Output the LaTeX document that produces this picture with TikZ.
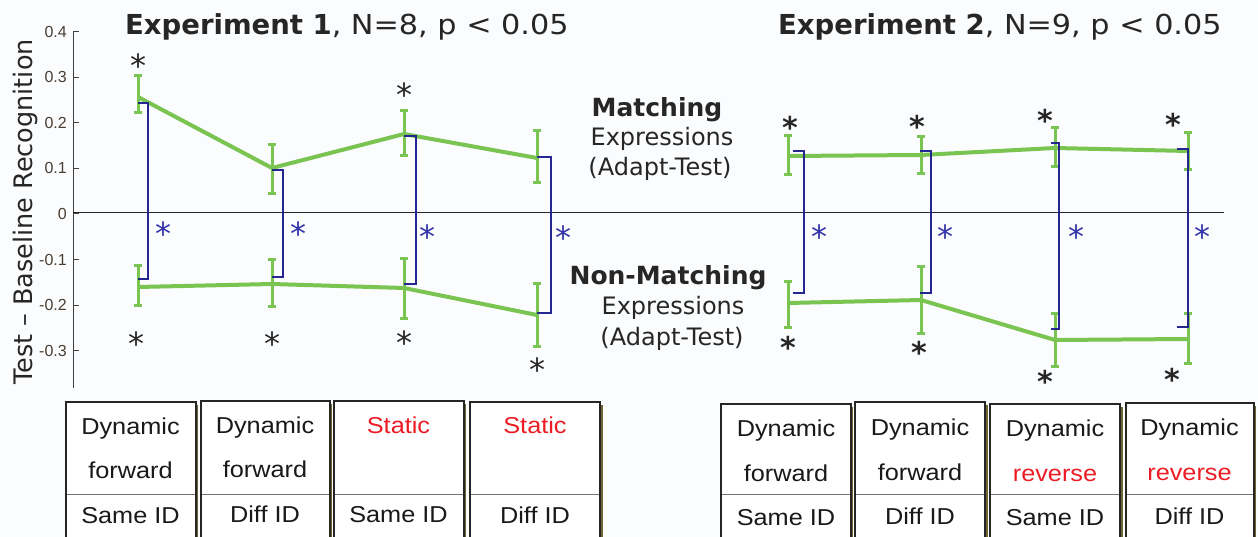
\documentclass[tikz,border=0pt]{standalone}
\usepackage{fontspec}
\setmainfont{DejaVu Sans}
\newfontfamily\arial{Liberation Sans}
\newfontfamily\tfont[FakeStretch=1.1]{Liberation Sans}
\newfontfamily\widefont[FakeStretch=1.1]{DejaVu Sans}
\definecolor{lgreen}{RGB}{122,196,82}
\definecolor{dblue}{RGB}{38,38,145}
\definecolor{sblue}{RGB}{52,52,170}
\definecolor{tred}{RGB}{236,28,36}
\definecolor{ticklab}{RGB}{75,62,50}
\definecolor{boxshadow}{RGB}{112,102,52}
\definecolor{bg}{RGB}{251,252,253}
\newcommand\fs[1]{\fontsize{#1}{#1}\selectfont}
\newcommand\ebar[5]{%
  \coordinate (#1) at (#2,#3);
  \coordinate (#1t) at (#2,#4);
  \coordinate (#1b) at (#2,#5);
  \draw[ebarst] (#1t) -- (#1b);
  \draw[ebarst] ([xshift=-4pt]#1t) -- ([xshift=4pt]#1t);
  \draw[ebarst] ([xshift=-4pt]#1b) -- ([xshift=4pt]#1b);}
\newcommand\bracketsig[5]{%
  \coordinate (#1a) at (#2,#4);
  \coordinate (#1b) at (#3,#4);
  \coordinate (#1c) at (#3,#5);
  \coordinate (#1d) at (#2,#5);
  \draw[brk] (#1a) -- (#1b) -- (#1c) -- (#1d);}
\newcommand\tbox[4]{% name, x1, x2, y1
  \coordinate (#1nw) at (#2,#4);
  \coordinate (#1se) at (#3,545);
  \fill[boxshadow] ([shift={(1pt,-3pt)}]#1nw -| #1se) rectangle ([xshift=2.8pt]#1se);
  \fill[white] (#1nw) rectangle (#1se);
  \draw[tline] (#1nw |- 0,494) -- (#1se |- 0,494);
  \draw[tborder] (#1nw) rectangle (#1se);}
\begin{document}
\begin{tikzpicture}[x=1pt,y=-1pt,
  gline/.style={draw=lgreen, line width=4pt, line join=round},
  ebarst/.style={draw=lgreen, line width=3pt},
  brk/.style={draw=dblue, line width=2pt},
  bast/.style={text=sblue, font=\fs{32}, anchor=base, yshift=-16.5pt, inner sep=0},
  kast/.style={text=black!85, font=\fs{32}, anchor=base, yshift=-16.5pt, inner sep=0},
  kbast/.style={text=black!85, font=\bfseries\fs{30}, anchor=base, yshift=-15.5pt, inner sep=0},
  ticklabel/.style={text=ticklab, font=\arial\fs{16}, anchor=east, inner sep=0},
  tborder/.style={draw=black!85, line width=2pt},
  tline/.style={draw=black!55, line width=1pt},
  ttext/.style={font=\tfont\fs{23}, anchor=base, inner sep=0, text=black!90},
  mlab/.style={font=\fs{24}, anchor=base, inner sep=0, text=black!85},
  mbold/.style={font=\bfseries\fs{25}, anchor=base, inner sep=0, text=black!85},
  title/.style={anchor=base west, inner sep=0, font=\fs{27.5}, text=black!85},
]
\useasboundingbox (0,0) rectangle (1258,537);
\clip (0,0) rectangle (1258,537);
\fill[bg] (0,0) rectangle (1258,537);

% titles
\node[title] (t1) at (125,35) {\textbf{Experiment 1}{\widefont, N=8, p < 0.05}};
\node[title] (t2) at (778,35) {\textbf{Experiment 2}{\widefont, N=9, p < 0.05}};

% y axis
\node[anchor=base, rotate=90, inner sep=0, font=\fs{25.5}, text=black!85] (ylab) at (32,212) {Test -- Baseline Recognition};
\coordinate (axtop) at (73,32);
\coordinate (axbot) at (73,388);
\draw[black!75, line width=1pt] (axtop) -- (axbot);
\foreach \v/\lab in {0.4/0.4,0.3/0.3,0.2/0.2,0.1/0.1,0/0,-0.1/-0.1,-0.2/-0.2,-0.3/-0.3}{
  \draw[black!75, line width=1pt] (73,{214-456*\v}) -- (79,{214-456*\v});
  \node[ticklabel] at (67,{214-456*\v}) {\lab};
}
\coordinate (z0) at (73,213);
\coordinate (z1) at (1224,213);
\draw[black!85, line width=1pt] (z0) -- (z1);

% middle labels
\node[mbold] (m1) at (657,117) {Matching};
\node[mlab] (m2) at (662,146) {Expressions};
\node[mlab] (m3) at (660,176) {(Adapt-Test)};
\node[mbold] (n1) at (668,285) {Non-Matching};
\node[mlab] (n2) at (673,314) {Expressions};
\node[mlab] (n3) at (672,345) {(Adapt-Test)};

% ---------- Experiment 1 ----------
\coordinate (a1) at (138,97); \coordinate (a2) at (272,168); \coordinate (a3) at (404,134); \coordinate (a4) at (537,158);
\coordinate (c1) at (138,287); \coordinate (c2) at (272,284); \coordinate (c3) at (404,288); \coordinate (c4) at (537,315);
\draw[gline] (a1) -- (a2) -- (a3) -- (a4);
\draw[gline] (c1) -- (c2) -- (c3) -- (c4);
\ebar{ea1}{138}{97}{76}{113}
\ebar{ea2}{272}{168}{145}{194}
\ebar{ea3}{404}{134}{111}{156}
\ebar{ea4}{537}{158}{131}{183}
\ebar{ec1}{138}{287}{266}{306}
\ebar{ec2}{272}{284}{260}{307}
\ebar{ec3}{404}{288}{259}{318}
\ebar{ec4}{537}{315}{284}{346}
\bracketsig{p1}{138}{148}{103}{279}
\bracketsig{p2}{272}{283}{170}{277}
\bracketsig{p3}{404}{416}{136}{284}
\bracketsig{p4}{537}{551}{157}{313}
\node[bast] at (163,229) {*};
\node[bast] at (298,229) {*};
\node[bast] at (427,232) {*};
\node[bast] at (563,233) {*};
\node[kast] at (138,61) {*};
\node[kast] at (404,90) {*};
\node[kast] at (136,339) {*};
\node[kast] at (272,339) {*};
\node[kast] at (404,338) {*};
\node[kast] at (537,365) {*};

% ---------- Experiment 2 ----------
\coordinate (b1) at (788,156); \coordinate (b2) at (921,155); \coordinate (b3) at (1055,148); \coordinate (b4) at (1188,151);
\coordinate (d1) at (788,303); \coordinate (d2) at (921,300); \coordinate (d3) at (1055,340); \coordinate (d4) at (1188,339);
\draw[gline] (b1) -- (b2) -- (b3) -- (b4);
\draw[gline] (d1) -- (d2) -- (d3) -- (d4);
\ebar{eb1}{788}{156}{136}{175}
\ebar{eb2}{921}{155}{137}{174}
\ebar{eb3}{1055}{148}{128}{167}
\ebar{eb4}{1188}{151}{133}{170}
\ebar{ed1}{788}{303}{282}{327}
\ebar{ed2}{921}{300}{267}{333}
\ebar{ed3}{1055}{340}{313}{366}
\ebar{ed4}{1188}{339}{313}{363}
\bracketsig{q1}{793}{804}{151}{293}
\bracketsig{q2}{920}{931}{151}{293}
\bracketsig{q3}{1051}{1059}{143}{329}
\bracketsig{q4}{1177}{1188}{149}{327}
\node[bast] at (819,232) {*};
\node[bast] at (945,232) {*};
\node[bast] at (1076,232) {*};
\node[bast] at (1202,232) {*};
\node[kbast] at (790,123) {*};
\node[kbast] at (917,122) {*};
\node[kbast] at (1045,116) {*};
\node[kbast] at (1173,120) {*};
\node[kbast] at (788,343) {*};
\node[kbast] at (919,348) {*};
\node[kbast] at (1045,377) {*};
\node[kbast] at (1172,375) {*};

% ---------- Tables ----------
\tbox{k1}{65.5}{195.5}{402}
\tbox{k2}{200.5}{329.5}{401}
\tbox{k3}{333.5}{463.5}{401}
\tbox{k4}{470}{600}{402}
\node[ttext] at (130.5,434) {Dynamic};
\node[ttext] at (130.5,478) {forward};
\node[ttext] at (130.5,523) {Same ID};
\node[ttext] at (265,433) {Dynamic};
\node[ttext] at (265,477) {forward};
\node[ttext] at (265,522) {Diff ID};
\node[ttext, text=tred] at (398.5,433) {Static};
\node[ttext] at (398.5,522) {Same ID};
\node[ttext, text=tred] at (535,433) {Static};
\node[ttext] at (535,523) {Diff ID};

\tbox{r1}{721}{850.5}{404}
\tbox{r2}{855}{985}{402}
\tbox{r3}{989.5}{1120}{404}
\tbox{r4}{1125.5}{1253.5}{403}
\node[ttext] at (786,436) {Dynamic};
\node[ttext] at (786,481) {forward};
\node[ttext] at (786,525) {Same ID};
\node[ttext] at (920,435) {Dynamic};
\node[ttext] at (920,480) {forward};
\node[ttext] at (920,524) {Diff ID};
\node[ttext] at (1055,436) {Dynamic};
\node[ttext, text=tred] at (1055,481) {reverse};
\node[ttext] at (1055,525) {Same ID};
\node[ttext] at (1189.5,435) {Dynamic};
\node[ttext, text=tred] at (1189.5,480) {reverse};
\node[ttext] at (1189.5,524) {Diff ID};
\end{tikzpicture}
\end{document}
